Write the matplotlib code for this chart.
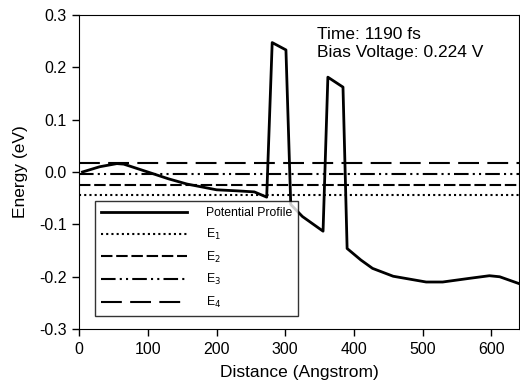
import matplotlib
matplotlib.use("Agg")
import matplotlib.pyplot as plt

plt.rcParams['font.family'] = ['Liberation Sans', 'DejaVu Sans']

# potential profile (distance in Angstrom, energy in eV)
distance = [5, 30, 55, 65, 100, 130, 157, 200, 230, 255, 273,
            281, 301, 308, 325, 355, 362, 384, 390, 410, 427, 457,
            505, 529, 568, 597, 612, 640]
energy = [0.000, 0.010, 0.016, 0.015, 0.000, -0.013, -0.023, -0.034, -0.036, -0.038, -0.048,
          0.247, 0.233, -0.062, -0.085, -0.113, 0.181, 0.162, -0.146, -0.168, -0.184, -0.199,
          -0.210, -0.210, -0.203, -0.198, -0.200, -0.213]

level_names = ['E$_1$', 'E$_2$', 'E$_3$', 'E$_4$']
level_values = [-0.044, -0.025, -0.004, 0.017]
level_dashes = [(1, 1.5), (5.5, 1.8), (7, 2, 1, 2, 1, 2), (10, 4)]

fig = plt.figure(figsize=(5.2, 3.9), dpi=100)
ax = fig.add_axes([0.152, 0.156, 0.846, 0.806])

ax.plot(distance, energy, color='black', lw=2, label='Potential Profile')
for name, val, ds in zip(level_names, level_values, level_dashes):
    ax.axhline(val, color='black', lw=1.5, dashes=ds, label=name)

ax.set_xlim(0, 640)
ax.set_ylim(-0.3, 0.3)
ax.set_xticks(range(0, 601, 100))
ax.set_yticks([-0.3, -0.2, -0.1, 0.0, 0.1, 0.2, 0.3])
ax.set_yticklabels(['-0.3', '-0.2', '-0.1', '0.0', '0.1', '0.2', '0.3'])
ax.tick_params(direction='out', length=5, width=1, labelsize=11.5, pad=4)
ax.set_xlabel('Distance (Angstrom)', fontsize=12.5, labelpad=6)
ax.set_ylabel('Energy (eV)', fontsize=12.5, labelpad=8)

ax.text(346, 0.277, 'Time: 1190 fs\nBias Voltage: 0.224 V', fontsize=12.5,
        va='top', ha='left', linespacing=1.3)

leg = ax.legend(loc='lower left', bbox_to_anchor=(0.036, 0.041), fontsize=8.8,
                handlelength=7.0, handletextpad=1.6, labelspacing=0.62,
                frameon=True, fancybox=False, borderpad=0.5, borderaxespad=0)
leg.get_frame().set_edgecolor('black')
leg.get_frame().set_linewidth(1)

fig.savefig('out.png', dpi=100)
